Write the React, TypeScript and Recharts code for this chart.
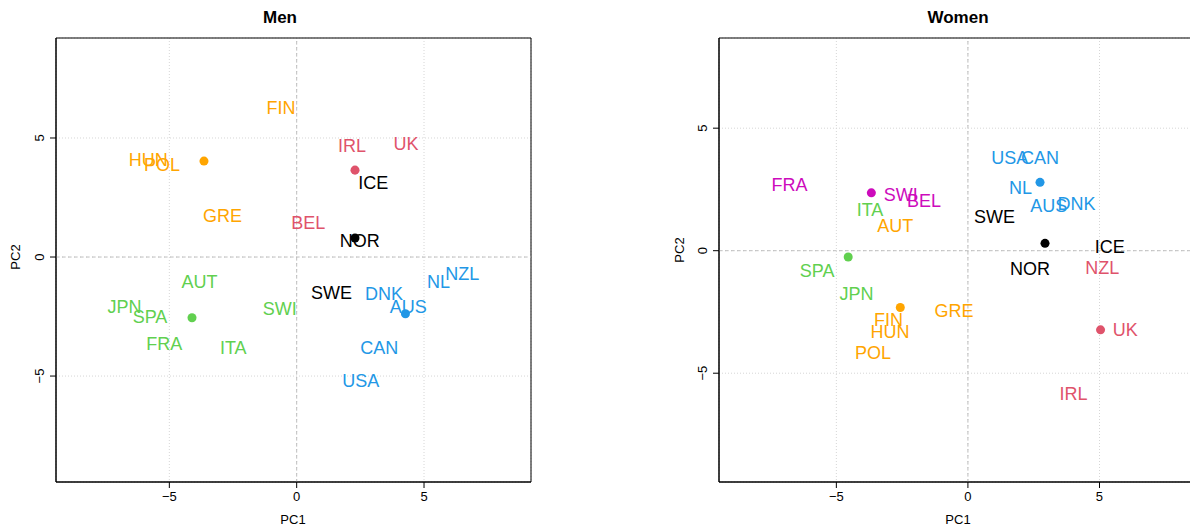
import React from 'react';
import { ScatterChart, Scatter, XAxis, YAxis, CartesianGrid, ReferenceLine, ReferenceArea, Cell } from 'recharts';

// Men: country labels at their PC scores, grouped by cluster
const menCountries = ['FIN', 'HUN', 'POL', 'GRE', 'IRL', 'UK', 'BEL', 'ICE', 'NOR', 'SWE', 'AUT', 'JPN', 'SPA', 'SWI', 'FRA', 'ITA', 'NL', 'NZL', 'DNK', 'AUS', 'CAN', 'USA'];
const menPC1 = [-0.62, -5.83, -5.29, -2.91, 2.17, 4.29, 0.45, 3.01, 2.48, 1.37, -3.82, -6.76, -5.76, -0.66, -5.2, -2.49, 5.57, 6.5, 3.43, 4.38, 3.24, 2.52];
const menPC2 = [6.29, 4.08, 3.87, 1.75, 4.69, 4.78, 1.43, 3.13, 0.71, -1.48, -1.02, -2.1, -2.52, -2.18, -3.65, -3.82, -1.02, -0.7, -1.54, -2.1, -3.82, -5.17];
const menGroup = [0, 0, 0, 0, 1, 1, 1, 2, 2, 2, 3, 3, 3, 3, 3, 3, 4, 4, 4, 4, 4, 4];
const menColors = ['#FFA500', '#DF536B', '#000000', '#61D04F', '#2297E6'];
const menCenterPC1 = [-3.64, 2.29, 2.29, -4.11, 4.27];
const menCenterPC2 = [4.03, 3.65, 0.8, -2.55, -2.38];

// Women
const womenCountries = ['USA', 'CAN', 'NL', 'AUS', 'DNK', 'FRA', 'SWI', 'BEL', 'ITA', 'SPA', 'JPN', 'AUT', 'GRE', 'FIN', 'HUN', 'POL', 'SWE', 'ICE', 'NOR', 'NZL', 'UK', 'IRL'];
const womenPC1 = [1.59, 2.74, 2.0, 3.07, 4.13, -6.78, -2.55, -1.67, -3.72, -5.73, -4.23, -2.76, -0.53, -3.02, -2.96, -3.61, 1.01, 5.39, 2.36, 5.11, 5.98, 4.01];
const womenPC2 = [3.79, 3.79, 2.57, 1.84, 1.91, 2.7, 2.29, 2.03, 1.7, -0.82, -1.73, 1.02, -2.43, -2.82, -3.28, -4.17, 1.38, 0.19, -0.74, -0.67, -3.23, -5.84];
const womenGroup = [0, 0, 0, 0, 0, 1, 1, 1, 2, 2, 2, 3, 3, 3, 3, 3, 4, 4, 4, 5, 5, 5];
const womenColors = ['#2297E6', '#CD0BBC', '#61D04F', '#FFA500', '#000000', '#DF536B'];
const womenCenterPC1 = [2.74, -3.67, -4.55, -2.57, 2.93, 5.04];
const womenCenterPC2 = [2.79, 2.36, -0.26, -2.32, 0.3, -3.23];

const axisTicks = [-5, 0, 5];
const FONT = '"Liberation Sans", Arial, Helvetica, sans-serif';

const fmt = (v: number) => (v < 0 ? '\u2212' + Math.abs(v) : String(v));

const XTick = (props: any) => (
  <text x={props.x} y={props.y + 11} textAnchor="middle" fontSize={13} fill="#000" fontFamily={FONT}>
    {fmt(props.payload.value)}
  </text>
);

const YTick = (props: any) => (
  <text
    transform={`translate(${props.x - 9}, ${props.y}) rotate(-90)`}
    textAnchor="middle"
    dy="0.35em"
    fontSize={13}
    fill="#000"
    fontFamily={FONT}
  >
    {fmt(props.payload.value)}
  </text>
);

const LabelShape = (color: string) => (props: any) => (
  <text x={props.cx} y={props.cy} dy="0.36em" textAnchor="middle" fontSize={18} fill={color} fontFamily={FONT}>
    {props.payload.name}
  </text>
);

interface PanelProps {
  left: number;
  width: number;
  plotLeft: number;
  plotRight: number;
  xDomain: [number, number];
  yDomain: [number, number];
  countries: string[];
  pc1: number[];
  pc2: number[];
  group: number[];
  colors: string[];
  centerPC1: number[];
  centerPC2: number[];
}

const Panel = ({ left, width, plotLeft, plotRight, xDomain, yDomain, countries, pc1, pc2, group, colors, centerPC1, centerPC2 }: PanelProps) => {
  const centers = centerPC1.map((x, i) => ({ x, y: centerPC2[i] }));
  return (
    <div style={{ position: 'absolute', left, top: 0 }}>
      <ScatterChart width={width} height={527} margin={{ top: 38, right: width - plotRight, bottom: 0, left: 0 }}>
        <CartesianGrid stroke="#d6d6d6" strokeDasharray="1 2" />
        <XAxis
          type="number"
          dataKey="x"
          domain={xDomain}
          ticks={axisTicks}
          allowDataOverflow
          height={45}
          stroke="#000"
          tickSize={6}
          tickMargin={2}
          tick={<XTick />}
        />
        <YAxis
          type="number"
          dataKey="y"
          domain={yDomain}
          ticks={axisTicks}
          allowDataOverflow
          width={plotLeft}
          stroke="#000"
          tickSize={6}
          tickMargin={2}
          tick={<YTick />}
        />
        <ReferenceLine x={0} stroke="#bebebe" strokeDasharray="3 3" />
        <ReferenceLine y={0} stroke="#bebebe" strokeDasharray="3 3" />
        <ReferenceArea x1={xDomain[0]} x2={xDomain[1]} y1={yDomain[0]} y2={yDomain[1]} fill="none" stroke="#000" strokeOpacity={1} ifOverflow="visible" />
        {colors.map((color, g) => (
          <Scatter
            key={g}
            data={countries.map((name, i) => ({ name, x: pc1[i], y: pc2[i], g: group[i] })).filter((d) => d.g === g)}
            shape={LabelShape(color)}
            isAnimationActive={false}
          />
        ))}
        <Scatter data={centers} isAnimationActive={false} shape="circle">
          {centers.map((_, i) => (
            <Cell key={i} fill={colors[i]} />
          ))}
        </Scatter>
      </ScatterChart>
    </div>
  );
};

export default function App() {
  return (
    <div style={{ position: 'absolute', left: 0, top: 0, width: 1190, height: 527, overflow: 'hidden', background: '#fff', fontFamily: FONT }}>
      <Panel
        left={0}
        width={560}
        plotLeft={56}
        plotRight={531}
        xDomain={[-9.45, 9.2]}
        yDomain={[-9.45, 9.2]}
        countries={menCountries}
        pc1={menPC1}
        pc2={menPC2}
        group={menGroup}
        colors={menColors}
        centerPC1={menCenterPC1}
        centerPC2={menCenterPC2}
      />
      <Panel
        left={660}
        width={600}
        plotLeft={59}
        plotRight={550}
        xDomain={[-9.46, 9.2]}
        yDomain={[-9.44, 8.68]}
        countries={womenCountries}
        pc1={womenPC1}
        pc2={womenPC2}
        group={womenGroup}
        colors={womenColors}
        centerPC1={womenCenterPC1}
        centerPC2={womenCenterPC2}
      />
      <svg width={1190} height={527} style={{ position: 'absolute', left: 0, top: 0, pointerEvents: 'none' }}>
        <text x={280} y={23} textAnchor="middle" fontSize={17} fontWeight="bold" fontFamily={FONT}>Men</text>
        <text x={958} y={23} textAnchor="middle" fontSize={17} fontWeight="bold" fontFamily={FONT}>Women</text>
        <text x={293} y={524} textAnchor="middle" fontSize={13} fontFamily={FONT}>PC1</text>
        <text x={958} y={524} textAnchor="middle" fontSize={13} fontFamily={FONT}>PC1</text>
        <text transform="translate(20, 257) rotate(-90)" textAnchor="middle" fontSize={13} fontFamily={FONT}>PC2</text>
        <text transform="translate(684, 250) rotate(-90)" textAnchor="middle" fontSize={13} fontFamily={FONT}>PC2</text>
      </svg>
    </div>
  );
}
